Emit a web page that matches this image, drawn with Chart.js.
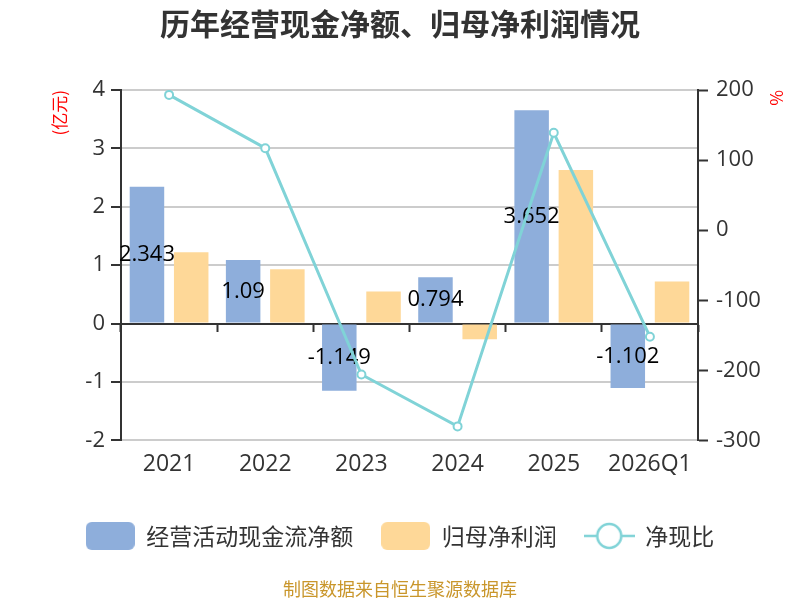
<!DOCTYPE html>
<html>
<head>
<meta charset="UTF-8">
<title>历年经营现金净额、归母净利润情况</title>
<script src="https://cdn.jsdelivr.net/npm/chart.js"></script>
<style>
  html, body { margin: 0; padding: 0; background: #fff; }
  #box { width: 800px; height: 600px; }
</style>
</head>
<body>
<div id="box"><canvas id="chart"></canvas></div>
<script>
// 데이터
const years = ['2021', '2022', '2023', '2024', '2025', '2026Q1'];
const cashFlow = [2.343, 1.09, -1.149, 0.794, 3.652, -1.102];   // 经营活动现金流净额 (亿元)
const netProfit = [1.22, 0.93, 0.55, -0.27, 2.63, 0.72];         // 归母净利润 (亿元)
const cashRatio = [193, 117, -206, -280, 139, -152];            // 净现比 (%)

const CJK = '"Noto Sans CJK SC", "Noto Sans", sans-serif';
const NUM = '"Open Sans", "Noto Sans CJK SC", sans-serif';
const BLUE = '#8eaedb';
const ORANGE = '#fed898';
const TEAL = '#80d3d7';

// 범례 아이콘
function makeBox(color) {
  const c = document.createElement('canvas');
  c.width = 49; c.height = 28;
  const g = c.getContext('2d');
  g.fillStyle = color;
  g.beginPath();
  g.roundRect(0, 0, 49, 28, 6);
  g.fill();
  return c;
}
function makeLineIcon(color) {
  const c = document.createElement('canvas');
  c.width = 51; c.height = 28;
  const g = c.getContext('2d');
  g.strokeStyle = color;
  g.lineWidth = 2.5;
  g.beginPath(); g.moveTo(0, 14); g.lineTo(51, 14); g.stroke();
  g.fillStyle = '#fff';
  g.lineWidth = 2.5;
  g.beginPath(); g.arc(25.5, 14, 12, 0, Math.PI * 2); g.fill(); g.stroke();
  return c;
}
const legendIcons = [makeBox(BLUE), makeBox(ORANGE), makeLineIcon(TEAL)];

// 파란 막대 위에 값 표시 (선보다 먼저 그림)
const barLabels = {
  id: 'barLabels',
  afterDatasetDraw(chart, args) {
    if (args.index !== 0) return;
    const ctx = chart.ctx;
    ctx.save();
    ctx.font = '22px ' + NUM;
    ctx.fillStyle = '#000';
    ctx.textAlign = 'center';
    ctx.textBaseline = 'middle';
    args.meta.data.forEach(function(bar, i) {
      ctx.fillText(String(cashFlow[i]), bar.x, (bar.y + bar.base) / 2);
    });
    ctx.restore();
  }
};

const ctx = document.getElementById('chart').getContext('2d');
new Chart(ctx, {
  type: 'bar',
  data: {
    labels: years,
    datasets: [
      {
        label: '经营活动现金流净额',
        data: cashFlow,
        backgroundColor: BLUE,
        categoryPercentage: 0.92,
        barPercentage: 0.78,
        order: 2
      },
      {
        label: '归母净利润',
        data: netProfit,
        backgroundColor: ORANGE,
        categoryPercentage: 0.92,
        barPercentage: 0.78,
        order: 2
      },
      {
        type: 'line',
        label: '净现比',
        data: cashRatio,
        yAxisID: 'y1',
        borderColor: TEAL,
        borderWidth: 3,
        pointStyle: 'circle',
        pointRadius: 4,
        pointBorderWidth: 2,
        pointBackgroundColor: '#fff',
        pointBorderColor: TEAL,
        tension: 0,
        order: 1
      }
    ]
  },
  options: {
    responsive: true,
    maintainAspectRatio: false,
    animation: false,
    layout: { padding: { left: 12, right: 12, top: 0, bottom: 0 } },
    scales: {
      x: {
        position: 'bottom',
        grid: { display: false },
        border: { display: false },
        ticks: { color: '#333', font: { size: 23, family: NUM }, padding: 2 },
        afterFit(scale) { scale.height = 56; }
      },
      x2: {
        type: 'category',
        labels: years,
        position: { y: 0 },
        offset: true,
        grid: { drawOnChartArea: false, drawTicks: true, tickLength: 7, tickColor: '#333', tickWidth: 2, offset: true },
        border: { color: '#333', width: 2 },
        ticks: { display: false }
      },
      y: {
        position: 'left',
        min: -2,
        max: 4,
        ticks: { stepSize: 1, color: '#333', font: { size: 22, family: NUM }, padding: 6 },
        grid: { color: '#ccc', lineWidth: 2, tickColor: '#333', tickLength: 10, tickWidth: 2 },
        border: { color: '#333', width: 2 },
        title: { display: true, text: '(亿元)', color: '#f00', align: 'end', font: { size: 17, family: CJK }, padding: { top: 37, bottom: 0 } },
        afterFit(scale) { scale.width = 109; }
      },
      y1: {
        position: 'right',
        min: -300,
        max: 200,
        ticks: { stepSize: 100, color: '#333', font: { size: 22, family: NUM }, padding: 8 },
        grid: { drawOnChartArea: false, tickColor: '#333', tickLength: 10, tickWidth: 2 },
        border: { color: '#333', width: 2 },
        title: { display: true, text: '%', color: '#f00', align: 'end', font: { size: 17, family: CJK }, padding: { top: 1, bottom: 0 } },
        afterFit(scale) { scale.width = 90; }
      }
    },
    plugins: {
      title: {
        display: true,
        text: '历年经营现金净额、归母净利润情况',
        color: '#333',
        font: { size: 30, weight: 'bold', family: CJK },
        padding: { top: 6, bottom: 48 }
      },
      legend: {
        position: 'bottom',
        labels: {
          usePointStyle: true,
          pointStyleWidth: 49,
          padding: 28,
          color: '#333',
          font: { size: 23, family: CJK },
          sort: function(a, b) { return a.datasetIndex - b.datasetIndex; },
          generateLabels: function(chart) {
            const items = Chart.defaults.plugins.legend.labels.generateLabels(chart);
            items.forEach(function(item) {
              item.pointStyle = legendIcons[item.datasetIndex];
            });
            return items;
          }
        }
      },
      subtitle: {
        display: true,
        position: 'bottom',
        text: '制图数据来自恒生聚源数据库',
        color: '#c9962b',
        font: { size: 18, family: CJK },
        padding: { top: 21, bottom: 0 }
      },
      tooltip: { enabled: false }
    }
  },
  plugins: [barLabels]
});
</script>
</body>
</html>
